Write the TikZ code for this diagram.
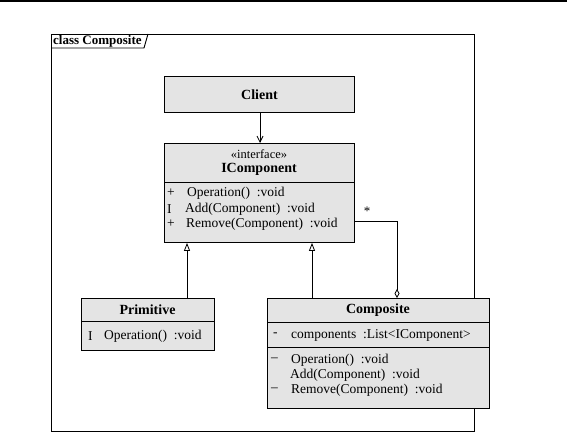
\documentclass[tikz,border=0pt]{standalone}
\usepackage{fontspec}
\setmainfont{Liberation Serif}
\usetikzlibrary{arrows.meta}
\definecolor{boxfill}{HTML}{E4E4E4}
\tikzset{
  cls/.style={draw=black, line width=0.9pt, fill=boxfill, anchor=north west, inner sep=0pt},
  txt/.style={inner sep=0pt, anchor=west, font=\fontsize{13.5}{15}\selectfont},
  title/.style={inner sep=0pt, font=\fontsize{14}{16}\selectfont\bfseries},
  divider/.style={draw=black, line width=0.9pt},
  conn/.style={draw=black, line width=0.8pt},
  gen/.style={conn, -{Triangle[open, width=6pt, length=8pt]}},
  assoc/.style={conn, -{Straight Barb[width=6pt, length=6pt]}},
  agg/.style={conn, {Diamond[open, width=5pt, length=9pt]}-},
}
\begin{document}
\begin{tikzpicture}[x=1pt, y=-1pt]
\useasboundingbox (0,0) rectangle (567,433);
% top rule
\draw[line width=1.5pt] (0,1) -- (567,1);
% frame
\draw[line width=0.9pt] (51,34) rectangle (474,431);
\node[inner sep=0pt, anchor=base west, font=\fontsize{13}{15}\selectfont\bfseries] (ftitle) at (53,45) {class Composite};
\draw[line width=0.9pt] (51,48) -- (144,48) -- (148,34);

% Client
\node[cls, minimum width=190pt, minimum height=36pt] (client) at (164,76) {};
\node[title] (clientname) at (client.center) {Client};

% IComponent
\node[cls, minimum width=190pt, minimum height=99pt] (icomp) at (164,143) {};
\draw[divider] (164,182) -- (354,182);
\node[inner sep=0pt, font=\fontsize{12.5}{14}\selectfont] (stereo) at (259,154) {«interface»};
\node[title] (icompname) at (259,169) {IComponent};
\node[txt] (ia) at (167,193) {+};
\node[txt] (ib) at (167,209) {I};
\node[txt] (ic) at (167,224) {+};
\node[txt] (ida) at (187,193) {Operation()\ \ :void};
\node[txt] (idb) at (185,209) {Add(Component)\ \ :void};
\node[txt] (idc) at (186,224) {Remove(Component)\ \ :void};

% Primitive
\node[cls, minimum width=133pt, minimum height=52pt] (prim) at (81,298) {};
\draw[divider] (81,321) -- (214,321);
\node[title] (primname) at (147.5,310) {Primitive};
\node[txt] (pa) at (88,336) {I};
\node[txt] (pb) at (104,336) {Operation()\ \ :void};

% Composite
\node[cls, minimum width=222pt, minimum height=110pt] (comp) at (267,298) {};
\draw[divider] (267,322) -- (489,322);
\draw[divider] (267,347) -- (489,347);
\node[title] (compname) at (378,310) {Composite};
\node[txt] (ca) at (273,335) {-};
\node[txt] (cb) at (291,335) {components\ \ :List<IComponent>};
\node[txt] (cc) at (271,360) {–};
\node[txt] (cd) at (291,360) {Operation()\ \ :void};
\node[txt] (ce) at (290,375) {Add(Component)\ \ :void};
\node[txt] (cf) at (271,390) {–};
\node[txt] (cg) at (291,390) {Remove(Component)\ \ :void};

% connectors
\draw[assoc] (client.south -| 260,0) -- (icomp.north -| 260,0);
\draw[gen] (prim.north -| 187,0) -- (icomp.south -| 187,0);
\draw[gen] (comp.north -| 312,0) -- (icomp.south -| 312,0);
\coordinate (aggcorner) at (397,221);
\draw[agg] (comp.north -| 397,0) -- (aggcorner) -- (icomp.east |- aggcorner);
\node[inner sep=0pt, font=\fontsize{13}{14}\selectfont] (mult) at (367,211) {*};
\end{tikzpicture}
\end{document}
